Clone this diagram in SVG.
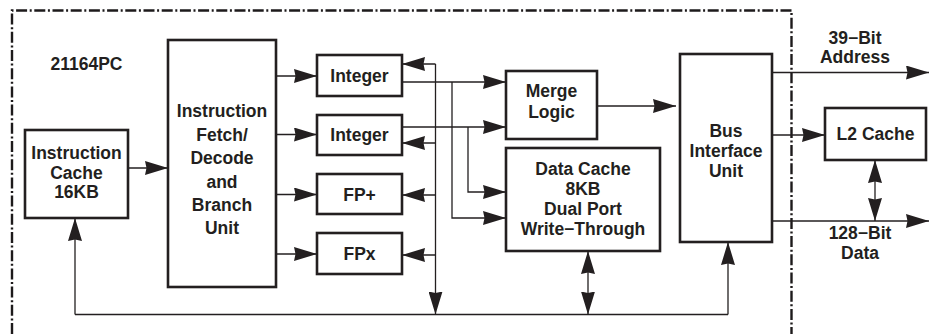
<svg xmlns="http://www.w3.org/2000/svg" width="930" height="334" viewBox="0 0 930 334">
  <style>
    .box { fill: #fff; stroke: #231f20; stroke-width: 2.6; }
    .lbl { font-family: "Liberation Sans", Arial, sans-serif; font-weight: bold; font-size: 17.5px; fill: #231f20; text-anchor: middle; }
    .wire { fill: none; stroke: #231f20; stroke-width: 1.3; }
    .arr { marker-end: url(#head); }
    .both { marker-start: url(#head); marker-end: url(#head); }
    .chip { fill: none; stroke: #1d1a1b; stroke-width: 2.4; stroke-dasharray: 11 2.6 2 2.6; }
  </style>
  <defs>
    <marker id="head" viewBox="0 0 23 14" refX="23" refY="7" markerWidth="23" markerHeight="14" markerUnits="userSpaceOnUse" orient="auto-start-reverse">
      <path d="M0,0 L23,7 L0,14 L1.5,7 Z" fill="#231f20"/>
    </marker>
  </defs>
  <rect width="930" height="334" fill="#fff"/>

  <!-- chip boundary -->
  <path class="chip" d="M12,334 V10.5 H791.5 V334"/>

  <g id="chip-name">
    <text class="lbl" x="86.5" y="70">21164PC</text>
  </g>

  <g id="icache">
    <rect class="box" x="25" y="130" width="103" height="88"/>
    <text class="lbl" x="76.5" y="159">Instruction</text>
    <text class="lbl" x="76.5" y="178.5">Cache</text>
    <text class="lbl" x="76.5" y="198">16KB</text>
  </g>

  <g id="fetch">
    <rect class="box" x="168" y="40" width="108" height="247"/>
    <text class="lbl" x="222" y="117">Instruction</text>
    <text class="lbl" x="222" y="140.5">Fetch/</text>
    <text class="lbl" x="222" y="164">Decode</text>
    <text class="lbl" x="222" y="187.5">and</text>
    <text class="lbl" x="222" y="211">Branch</text>
    <text class="lbl" x="222" y="234">Unit</text>
  </g>

  <g id="int1">
    <rect class="box" x="317" y="55" width="85" height="41"/>
    <text class="lbl" x="359.5" y="82">Integer</text>
  </g>
  <g id="int2">
    <rect class="box" x="317" y="115" width="85" height="40"/>
    <text class="lbl" x="359.5" y="141">Integer</text>
  </g>
  <g id="fpadd">
    <rect class="box" x="317" y="174" width="85" height="40"/>
    <text class="lbl" x="359.5" y="200.5">FP+</text>
  </g>
  <g id="fpmul">
    <rect class="box" x="317" y="233" width="85" height="41"/>
    <text class="lbl" x="359.5" y="260">FPx</text>
  </g>

  <g id="merge">
    <rect class="box" x="506" y="71" width="91" height="68"/>
    <text class="lbl" x="551.5" y="97">Merge</text>
    <text class="lbl" x="551.5" y="118">Logic</text>
  </g>

  <g id="dcache">
    <rect class="box" x="506" y="148" width="154" height="103"/>
    <text class="lbl" x="583" y="175">Data Cache</text>
    <text class="lbl" x="583" y="195">8KB</text>
    <text class="lbl" x="583" y="215">Dual Port</text>
    <text class="lbl" x="583" y="234.5">Write−Through</text>
  </g>

  <g id="biu">
    <rect class="box" x="680" y="54" width="92" height="188"/>
    <text class="lbl" x="726" y="137">Bus</text>
    <text class="lbl" x="726" y="157">Interface</text>
    <text class="lbl" x="726" y="177">Unit</text>
  </g>

  <g id="l2">
    <rect class="box" x="825" y="108" width="101" height="52"/>
    <text class="lbl" x="875.5" y="140">L2 Cache</text>
  </g>

  <g id="addr-label">
    <text class="lbl" x="855" y="44">39−Bit</text>
    <text class="lbl" x="855" y="63">Address</text>
  </g>
  <g id="data-label">
    <text class="lbl" x="860" y="239">128−Bit</text>
    <text class="lbl" x="860" y="259">Data</text>
  </g>

  <g id="connectors">
    <!-- instruction path -->
    <line class="wire arr" x1="128" y1="168" x2="168" y2="168"/>
    <line class="wire arr" x1="276" y1="76" x2="317" y2="76"/>
    <line class="wire arr" x1="276" y1="134.5" x2="317" y2="134.5"/>
    <line class="wire arr" x1="276" y1="194.5" x2="317" y2="194.5"/>
    <line class="wire arr" x1="276" y1="254" x2="317" y2="254"/>

    <!-- result bus back into the units -->
    <path class="wire arr" d="M435.5,64 V314.5"/>
    <line class="wire arr" x1="435.5" y1="64" x2="402" y2="64"/>
    <line class="wire arr" x1="435.5" y1="143" x2="402" y2="143"/>
    <line class="wire arr" x1="435.5" y1="195" x2="402" y2="195"/>
    <line class="wire arr" x1="435.5" y1="255" x2="402" y2="255"/>

    <!-- integer outputs -->
    <line class="wire arr" x1="402" y1="82" x2="506" y2="82"/>
    <line class="wire arr" x1="402" y1="127" x2="506" y2="127"/>
    <path class="wire arr" d="M452,82 V218 H506"/>
    <path class="wire arr" d="M468,127 V192 H506"/>

    <!-- merge to bus interface -->
    <line class="wire arr" x1="597" y1="106" x2="676" y2="106"/>

    <!-- external interfaces -->
    <line class="wire arr" x1="772" y1="72.5" x2="929" y2="72.5"/>
    <line class="wire arr" x1="772" y1="135" x2="825" y2="135"/>
    <line class="wire arr" x1="772" y1="221" x2="929" y2="221"/>
    <line class="wire both" x1="875" y1="160" x2="875" y2="221"/>

    <!-- fill bus along the bottom -->
    <line class="wire" x1="75" y1="314.5" x2="728" y2="314.5"/>
    <line class="wire arr" x1="75" y1="314.5" x2="75" y2="218"/>
    <line class="wire both" x1="588" y1="251" x2="588" y2="314.5"/>
    <line class="wire arr" x1="728" y1="314.5" x2="728" y2="242"/>
  </g>
</svg>
